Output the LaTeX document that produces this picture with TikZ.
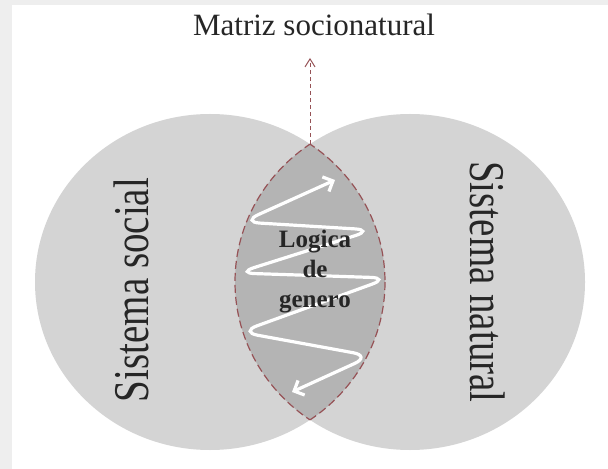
\documentclass[tikz,border=0pt]{standalone}
\usepackage{fontspec}
\setmainfont{Liberation Serif}
\usetikzlibrary{arrows.meta, shapes.geometric, calc}
\definecolor{circgray}{RGB}{212,212,212}
\definecolor{lensgray}{RGB}{180,180,180}
\definecolor{dashred}{RGB}{150,82,86}
\definecolor{framegray}{RGB}{238,238,238}
\definecolor{inkgray}{RGB}{38,38,38}

\begin{document}
\begin{tikzpicture}[x=0.5pt, y=-0.5pt,
        sistema/.style={ellipse, fill=circgray, minimum width=175pt,
                        minimum height=168pt, inner sep=0pt, outer sep=0pt},
        bigtxt/.style={font=\fontsize{25}{30}\selectfont, text=inkgray, yscale=0.78},
        lensline/.style={draw=dashred, line width=0.6pt, dash pattern=on 4pt off 2pt},
        uparr/.style={draw=dashred, line width=0.5pt, dash pattern=on 2pt off 1.5pt,
                      -{Straight Barb[length=4pt, width=5pt]}},
        coil/.style={white, line width=1.6pt, rounded corners=9pt, line cap=round,
                     {Straight Barb[length=4pt, width=8pt]}-{Straight Barb[length=4pt, width=8pt]}}
      ]
        % frame
        \fill[framegray] (0,0) rectangle (608,469);
        \fill[white] (12,5) rectangle (608,469);
        \useasboundingbox (0,0) rectangle (608,469);

        % the two systems
        \node[sistema] (social)  at (210,282) {};
        \node[sistema] (natural) at (410,282) {};

        % overlap
        \begin{scope}
          \clip (social.center) ellipse [x radius=175, y radius=168];
          \fill[lensgray] (natural.center) ellipse [x radius=175, y radius=168];
          \path[lensline] (natural.center) ellipse [x radius=175, y radius=168];
        \end{scope}
        \begin{scope}
          \clip (natural.center) ellipse [x radius=175, y radius=168];
          \path[lensline] (social.center) ellipse [x radius=175, y radius=168];
        \end{scope}

        \node[bigtxt, rotate=90]  (soctxt) at (131,290) {Sistema social};
        \node[bigtxt, rotate=-90] (nattxt) at (488,282) {Sistema natural};

        \node[font=\fontsize{15.5}{18}\selectfont, text=inkgray] (titulo) at (314,25) {Matriz socionatural};
        \coordinate (lenstop) at (310,144);
        \draw[uparr] (lenstop) -- ($(lenstop |- titulo.south)+(0,15)$);

        % coil
        \coordinate (coiltop) at (335,180);
        \coordinate (coilbot) at (292,392);
        \draw[coil] (coiltop) -- (242,222) -- (373,230) -- (237,273) -- (389,278)
                    -- (240,332) -- (371,356) -- (coilbot);

        \node[font=\fontsize{12.5}{15}\selectfont\bfseries, text=inkgray, align=center,
              inner sep=0pt] (logica) at (315,272) {Logica\\de\\genero};
      \end{tikzpicture}
\end{document}
